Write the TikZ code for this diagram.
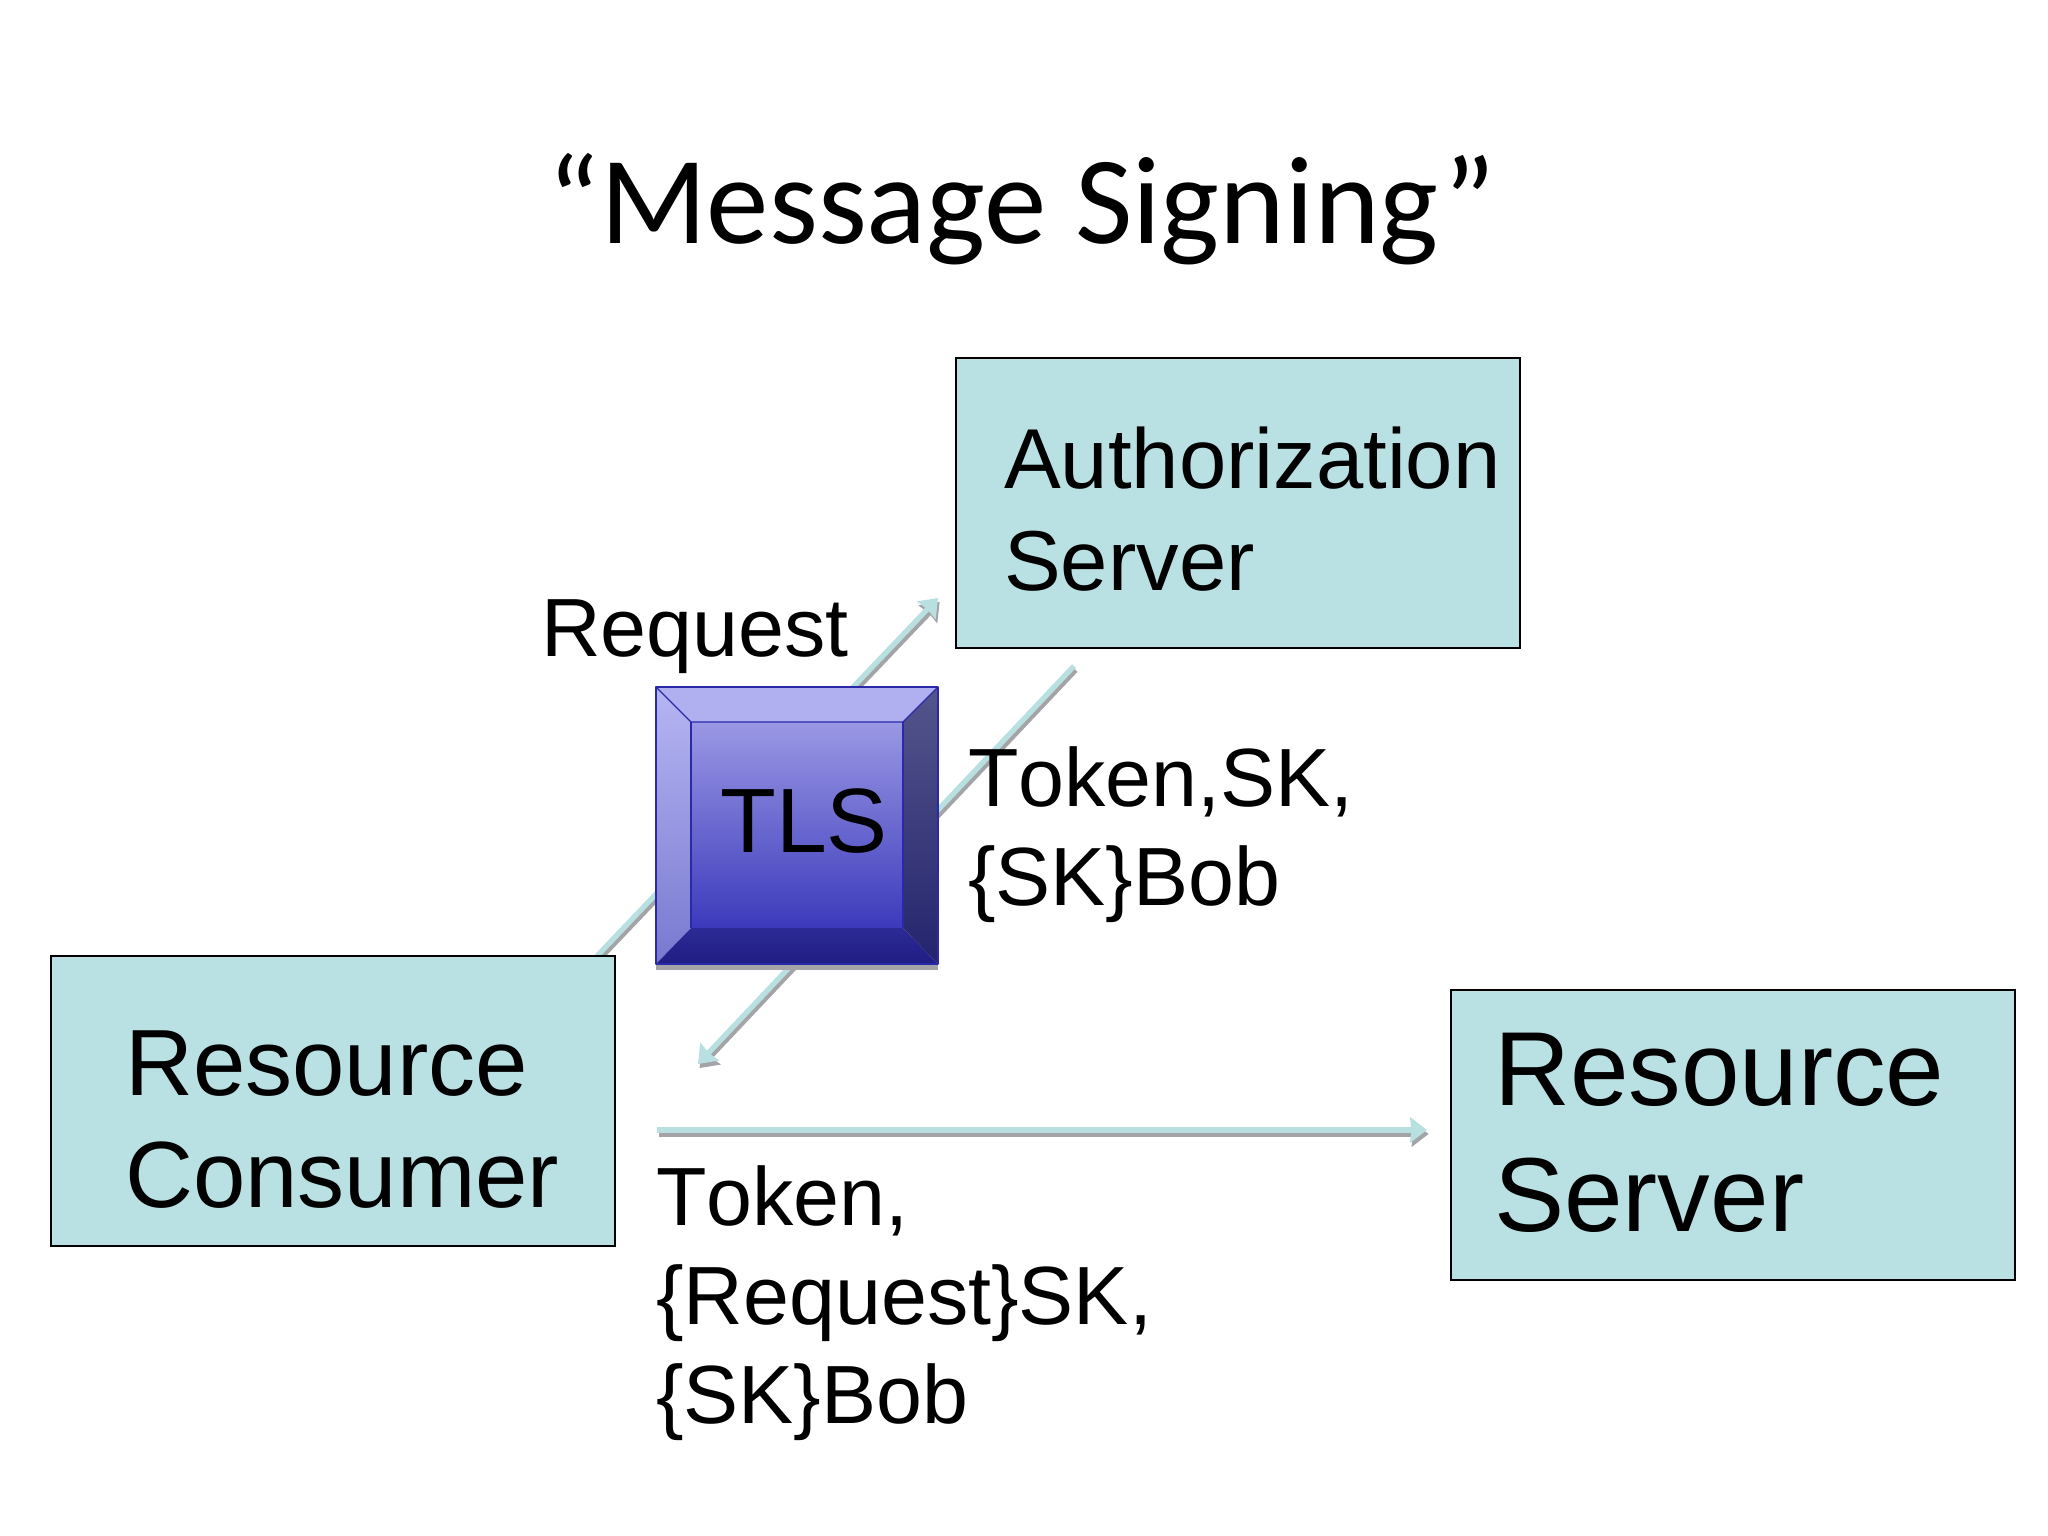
\documentclass[tikz,border=0pt]{standalone}
\usepackage{fontspec}
\setmainfont[Kerning=Off]{Liberation Sans}
\newfontfamily\titlefont{Carlito}
\usetikzlibrary{arrows.meta}
\definecolor{boxfill}{HTML}{B9E0E2}
\definecolor{arrowfill}{HTML}{B9E0E0}
\definecolor{arrowshadow}{HTML}{A3A3A8}
\definecolor{tlsedge}{HTML}{2A2AA8}
\definecolor{midtop}{HTML}{9A98E4}
\definecolor{midbot}{HTML}{3C3ABB}
\definecolor{lefttop}{HTML}{B6B6F4}
\definecolor{leftbot}{HTML}{7878D0}
\definecolor{topface}{HTML}{B0B0F0}
\definecolor{righttop}{HTML}{55558C}
\definecolor{rightbot}{HTML}{24246E}
\definecolor{bottop}{HTML}{2C2A94}
\definecolor{botbot}{HTML}{201D84}
\tikzset{
  box/.style={draw=black,line width=1.5pt,fill=boxfill,minimum width=282mm,minimum height=145mm,inner sep=0pt},
  lbl/.style={anchor=base west,align=left,inner sep=0pt,text=black},
  flow/.style={draw=arrowfill,line width=7.5pt,-{Triangle[length=24pt,width=36pt,inset=2pt]}},
  flowshadow/.style={draw=arrowshadow,line width=7.5pt,-{Triangle[length=24pt,width=36pt,inset=2pt]}},
  bevel/.style={draw=tlsedge,line width=1.6pt,line join=round}
}
\begin{document}
\begin{tikzpicture}[x=0.5mm,y=-0.5mm]
\useasboundingbox (0,0) rectangle (2048,1536);
\fill[white] (0,0) rectangle (2048,1536);
% free ends
\coordinate (reqEnd) at (938,598);
\coordinate (tokStart) at (1074,666);
\coordinate (tokEnd) at (698,1064);
\coordinate (sigStart) at (657,1130);
\coordinate (sigEnd) at (1427,1130);
\coordinate (reqStart) at (597,956);
% arrows (under the boxes)
\begin{scope}[transform canvas={xshift=0.8mm,yshift=-2mm}]
\draw[flowshadow] (reqStart) -- (reqEnd);
\draw[flowshadow] (tokStart) -- (tokEnd);
\draw[flowshadow] (sigStart) -- (sigEnd);
\end{scope}
\draw[flow] (reqStart) -- (reqEnd);
\draw[flow] (tokStart) -- (tokEnd);
\draw[flow] (sigStart) -- (sigEnd);
% boxes
\node[box] (auth) at (1238,503) {};
\node[box] (consumer) at (333,1101) {};
\node[box] (server) at (1733,1135) {};
\node[lbl,font=\fontsize{121pt}{145.1pt}\selectfont] (authText) at (1004,590) {Authorization\\Server};
\node[lbl,font=\fontsize{133.9pt}{159.3pt}\selectfont] (consumerText) at (125,1207) {Resource\\Consumer};
\node[lbl,font=\fontsize{149.7pt}{178.5pt}\selectfont] (serverText) at (1494,1231) {Resource\\Server};
% TLS block
\fill[arrowshadow] (656,964) rectangle (938,970);
\shade[top color=midtop,bottom color=midbot] (691,722) rectangle (903,928);
\shade[top color=lefttop,bottom color=leftbot] (656,687) -- (691,722) -- (691,928) -- (656,964) -- cycle;
\fill[topface] (656,687) -- (938,687) -- (903,722) -- (691,722) -- cycle;
\shade[top color=righttop,bottom color=rightbot] (938,687) -- (938,964) -- (903,928) -- (903,722) -- cycle;
\shade[top color=bottop,bottom color=botbot] (656,964) -- (691,928) -- (903,928) -- (938,964) -- cycle;
\draw[bevel] (656,687) rectangle (938,964);
\draw[bevel] (656,687) -- (691,722) -- (903,722) -- (938,687);
\draw[bevel] (691,722) -- (691,928) (903,722) -- (903,928);
\node[anchor=base,inner sep=0pt,font=\fontsize{130pt}{142.3pt}\selectfont] (tls) at (804,852) {TLS};
% labels
\node[anchor=base,inner sep=0pt,font=\titlefont\fontsize{177.8pt}{213.4pt}\selectfont] (title) at (1022,244) {“Message Signing”};
\node[lbl,font=\fontsize{117.5pt}{140.5pt}\selectfont] (request) at (541,656) {Request};
\node[lbl,font=\fontsize{117.5pt}{140.5pt}\selectfont] (tokenA) at (968,905) {Token,SK,\\\{SK\}Bob};
\node[lbl,font=\fontsize{117.5pt}{140.5pt}\selectfont] (tokenB) at (656,1423) {Token,\\\{Request\}SK,\\\{SK\}Bob};
\end{tikzpicture}
\end{document}
